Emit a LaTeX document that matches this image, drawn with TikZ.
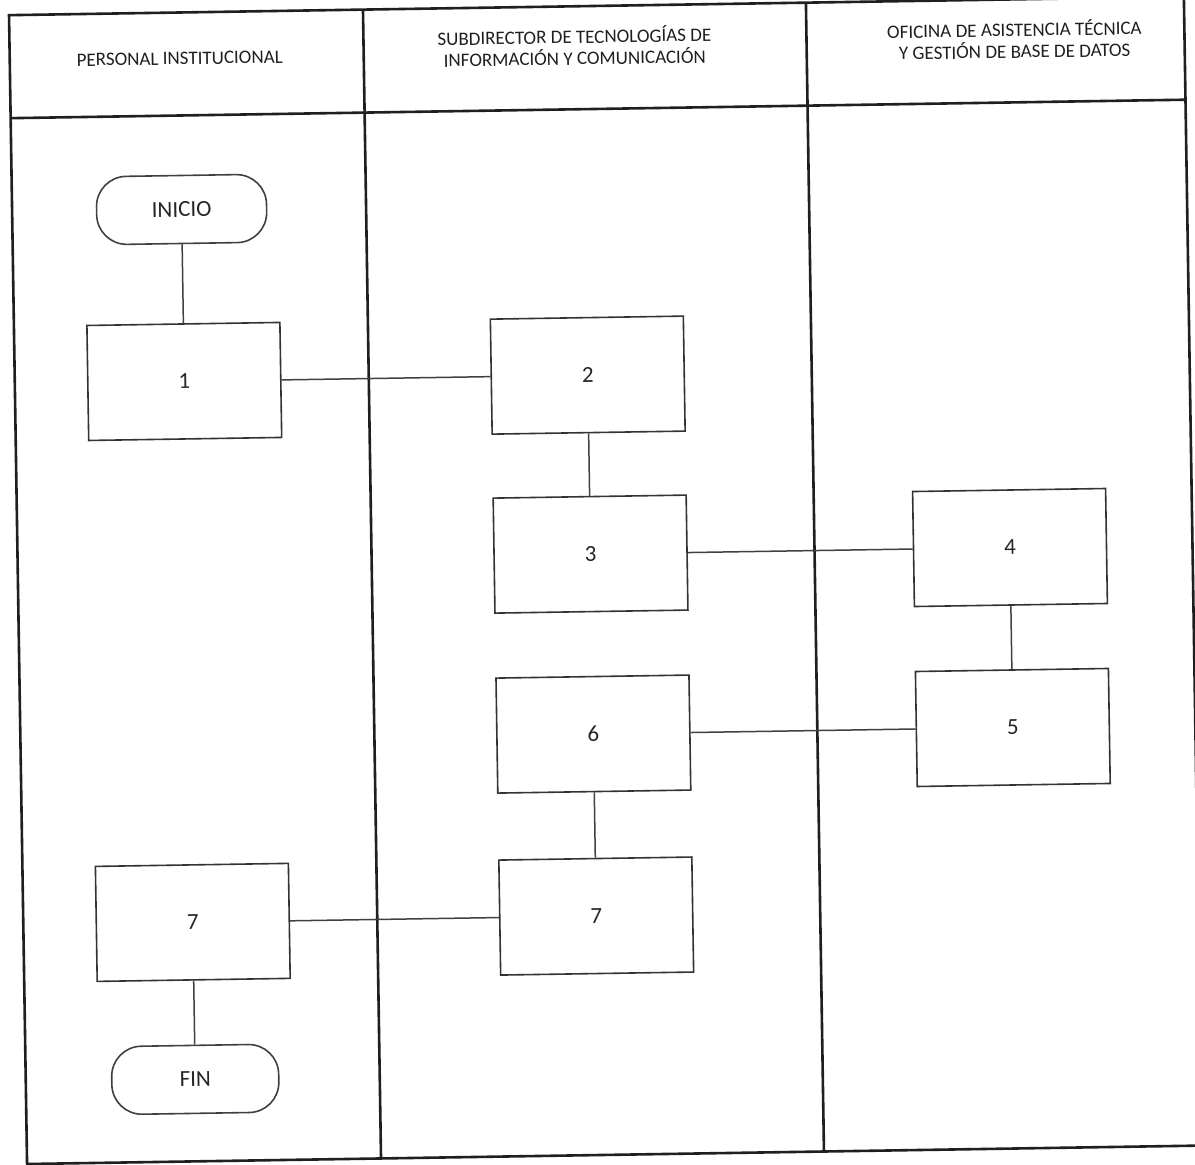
\documentclass[tikz,border=0pt]{standalone}
\usepackage{fontspec}
\setmainfont{Carlito}
\begin{document}
\begin{tikzpicture}[x=0.5pt,y=-0.5pt,
  frameline/.style={draw=black!88,line width=1.3pt},
  stepbox/.style={draw=black!80,line width=0.8pt,minimum width=96.5pt,minimum height=57.5pt,inner sep=0pt,font=\fontsize{11.5}{13}\selectfont,text=black!85},
  term/.style={draw=black!75,line width=0.8pt,rounded corners=15pt,minimum height=34pt,inner sep=0pt,font=\fontsize{11.5}{13}\selectfont,text=black!85},
  head/.style={align=center,font=\fontsize{9.5}{10.8}\selectfont,text=black!88},
  link/.style={draw=black!75,line width=0.75pt}]
\useasboundingbox (0,0) rectangle (1195,1165);
\fill[white] (0,0) rectangle (1195,1165);
\begin{scope}[rotate around={0.9:(597.5,582.5)},transform shape]
  % frame and lanes
  \draw[frameline] (18,6) rectangle (1193,1155);
  \draw[frameline] (18,109) -- (1193,109);
  \draw[frameline] (372,6) -- (372,1155);
  \draw[frameline] (815,6) -- (815,1155);
  % headers
  \node[head] (h1) at (188,52) {PERSONAL INSTITUCIONAL};
  \node[head] (h2) at (583,46) {SUBDIRECTOR DE TECNOLOGÍAS DE\\INFORMACIÓN Y COMUNICACIÓN};
  \node[head] (h3) at (1023,46) {OFICINA DE ASISTENCIA TÉCNICA\\Y GESTIÓN DE BASE DE DATOS};
  % nodes
  \node[term,minimum width=85pt] (inicio) at (187.5,203) {INICIO};
  \node[stepbox] (b1) at (187.5,375) {1};
  \node[stepbox] (b2) at (591,375) {2};
  \node[stepbox] (b3) at (591,554) {3};
  \node[stepbox] (b4) at (1010.5,554) {4};
  \node[stepbox] (b5) at (1010.5,734) {5};
  \node[stepbox] (b6) at (591,734) {6};
  \node[stepbox] (b7m) at (591,916) {7};
  \node[stepbox] (b7l) at (187.5,916) {7};
  \node[term,minimum width=83.5pt] (fin) at (187.5,1073) {FIN};
  % connectors
  \draw[link] (inicio) -- (b1);
  \draw[link] (b1) -- (b2);
  \draw[link] (b2) -- (b3);
  \draw[link] (b3) -- (b4);
  \draw[link] (b4) -- (b5);
  \draw[link] (b5) -- (b6);
  \draw[link] (b6) -- (b7m);
  \draw[link] (b7m) -- (b7l);
  \draw[link] (b7l) -- (fin);
\end{scope}
\end{tikzpicture}
\end{document}
